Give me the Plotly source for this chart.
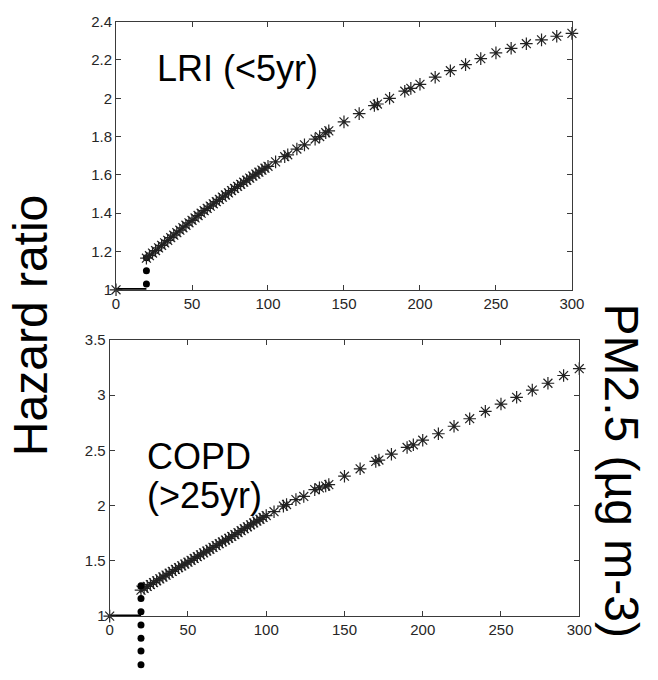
import plotly.graph_objects as go

# ---------------- data ----------------
# PM2.5 concentrations (shared by both panels)
pm_x = [0,
        20, 22, 24, 26, 28, 30, 32, 34, 36, 38, 40, 42, 44, 46, 48, 50,
        52, 54, 56, 58, 60, 62, 64, 66, 68, 70, 72, 74, 76, 78, 80,
        82, 84, 86, 88, 90, 92, 94, 96, 98, 100,
        105, 111, 113, 119, 124, 131, 134, 138, 140, 150, 160, 170, 172,
        180, 190, 194, 200, 210, 220, 230, 240, 250, 260, 270, 280, 290, 300]

lri_hr = [1.0,
          1.165, 1.178, 1.192, 1.205, 1.219, 1.232, 1.245, 1.258, 1.272, 1.285,
          1.298, 1.311, 1.324, 1.337, 1.350, 1.363, 1.375, 1.388, 1.400, 1.413,
          1.425, 1.437, 1.449, 1.460, 1.472, 1.484, 1.495, 1.506, 1.518, 1.529,
          1.540, 1.551, 1.562, 1.572, 1.583, 1.594, 1.604, 1.614, 1.625, 1.635,
          1.645,
          1.668, 1.695, 1.705, 1.735, 1.757, 1.787, 1.800, 1.820, 1.830, 1.877,
          1.920, 1.962, 1.970, 2.000, 2.037, 2.052, 2.073, 2.110, 2.144, 2.176,
          2.207, 2.237, 2.261, 2.285, 2.305, 2.324, 2.339]

copd_hr = [1.0,
           1.235, 1.252, 1.269, 1.286, 1.303, 1.320, 1.337, 1.354, 1.371, 1.388,
           1.405, 1.422, 1.438, 1.455, 1.471, 1.488, 1.505, 1.522, 1.538, 1.555,
           1.572, 1.589, 1.605, 1.622, 1.638, 1.655, 1.671, 1.688, 1.704, 1.721,
           1.737, 1.755, 1.773, 1.791, 1.808, 1.826, 1.843, 1.860, 1.876, 1.893,
           1.910,
           1.945, 1.995, 2.010, 2.054, 2.083, 2.145, 2.160, 2.177, 2.190, 2.266,
           2.333, 2.400, 2.412, 2.465, 2.526, 2.550, 2.592, 2.650, 2.718, 2.786,
           2.853, 2.919, 2.980, 3.045, 3.107, 3.177, 3.239]

# counterfactual step (black dots / line)
step_line_x = [0, 20]
step_line_y = [1.0, 1.0]
lri_step_x = [20, 20, 20]
lri_step_y = [1.03, 1.10, 1.168]
copd_step_x = [20, 20, 20, 20, 20, 20, 20, 20]
copd_step_y = [1.274, 1.16, 1.04, 0.92, 0.80, 0.685, 0.56, 0.44]

x_ticks = [0, 50, 100, 150, 200, 250, 300]
x_tick_text = ["0", "50", "100", "150", "200", "250", "300"]
lri_y_ticks = [1, 1.2, 1.4, 1.6, 1.8, 2, 2.2, 2.4]
lri_y_text = ["1", "1.2", "1.4", "1.6", "1.8", "2", "2.2", "2.4"]
copd_y_ticks = [1, 1.5, 2, 2.5, 3, 3.5]
copd_y_text = ["1", "1.5", "2", "2.5", "3", "3.5"]

# ---------------- figure ----------------
W, H = 658, 680
FONT = "Liberation Sans, Arial, Helvetica, sans-serif"
AX = "#3a3a3a"

# panel geometry (pixels)
top_x_px = (115, 583)
top_y_px = (13, 288)
bot_x_px = (108.5, 590.5)
bot_y_px = (339.3, 622.7)

LRI_RANGE = [1, 2.4]
COPD_RANGE = [1, 3.5]

# an invisible twin of the lower panel whose domain runs to the bottom
# edge, so dots below y=1 stay visible (same data scale)
ext_bottom_px = H
scale = (COPD_RANGE[1] - COPD_RANGE[0]) / (bot_y_px[1] - bot_y_px[0])
ext_range = [COPD_RANGE[1] - scale * (ext_bottom_px - bot_y_px[0]), COPD_RANGE[1]]

fig = go.Figure()

ast = dict(symbol="asterisk-open", size=10.5, color="#222222",
           line=dict(width=1.2, color="rgba(25,25,25,0.88)"))
dot = dict(symbol="circle", size=7, color="black")

# top panel
fig.add_trace(go.Scatter(x=step_line_x, y=step_line_y, mode="lines",
                         line=dict(color="black", width=3.5),
                         xaxis="x", yaxis="y", cliponaxis=False,
                         showlegend=False, hoverinfo="skip"))
fig.add_trace(go.Scatter(x=lri_step_x, y=lri_step_y, mode="markers", marker=dot,
                         xaxis="x", yaxis="y", cliponaxis=False, showlegend=False))
fig.add_trace(go.Scatter(x=pm_x, y=lri_hr, mode="markers", marker=ast,
                         xaxis="x", yaxis="y", cliponaxis=False, showlegend=False))

# bottom panel
fig.add_trace(go.Scatter(x=step_line_x, y=step_line_y, mode="lines",
                         line=dict(color="black", width=3.5),
                         xaxis="x2", yaxis="y2", cliponaxis=False,
                         showlegend=False, hoverinfo="skip"))
fig.add_trace(go.Scatter(x=pm_x, y=copd_hr, mode="markers", marker=ast,
                         xaxis="x2", yaxis="y2", cliponaxis=False, showlegend=False))
fig.add_trace(go.Scatter(x=copd_step_x, y=copd_step_y, mode="markers", marker=dot,
                         xaxis="x3", yaxis="y3", cliponaxis=False, showlegend=False))

axis_common = dict(showline=True, linecolor=AX, linewidth=1, mirror="ticks",
                   ticks="inside", ticklen=5, tickcolor=AX, tickwidth=1,
                   showgrid=False, zeroline=False,
                   tickfont=dict(family=FONT, size=15, color="#262626"))
hidden = dict(visible=False, showgrid=False, zeroline=False)

fig.update_layout(
    width=W, height=H,
    margin=dict(l=0, r=0, t=0, b=0),
    paper_bgcolor="white", plot_bgcolor="rgba(0,0,0,0)",
    xaxis=dict(domain=[top_x_px[0] / W, top_x_px[1] / W], range=[0, 300], anchor="y",
               tickvals=x_ticks, ticktext=x_tick_text, **axis_common),
    yaxis=dict(domain=[1 - top_y_px[1] / H, 1 - top_y_px[0] / H], range=LRI_RANGE,
               anchor="x", tickvals=lri_y_ticks, ticktext=lri_y_text, **axis_common),
    xaxis2=dict(domain=[bot_x_px[0] / W, bot_x_px[1] / W], range=[0, 300], anchor="y2",
                tickvals=x_ticks, ticktext=x_tick_text, **axis_common),
    yaxis2=dict(domain=[1 - bot_y_px[1] / H, 1 - bot_y_px[0] / H], range=COPD_RANGE,
                anchor="x2", tickvals=copd_y_ticks, ticktext=copd_y_text, **axis_common),
    xaxis3=dict(domain=[bot_x_px[0] / W, bot_x_px[1] / W], range=[0, 300],
                anchor="y3", **hidden),
    yaxis3=dict(domain=[1 - ext_bottom_px / H, 1 - bot_y_px[0] / H], range=ext_range,
                anchor="x3", **hidden),
)

big = dict(family=FONT, size=36, color="black")
fig.add_annotation(x=80, y=2.156, xref="x", yref="y", text="LRI (<5yr)",
                   showarrow=False, font=big, xanchor="center", yanchor="middle")
fig.add_annotation(x=22.7, y=2.44, xref="x2", yref="y2", text="COPD",
                   showarrow=False, font=big, xanchor="left", yanchor="middle")
fig.add_annotation(x=22.7, y=2.09, xref="x2", yref="y2", text="(>25yr)",
                   showarrow=False, font=big, xanchor="left", yanchor="middle")

label = dict(family=FONT, size=48, color="black")
fig.add_annotation(x=28 / W, y=1 - 325 / H, xref="paper", yref="paper",
                   text="Hazard ratio", textangle=-90, showarrow=False,
                   font=label, xanchor="center", yanchor="middle")
fig.add_annotation(x=634 / W, y=1 - 473 / H, xref="paper", yref="paper",
                   text="PM2.5 (µg m-3)", textangle=90, showarrow=False,
                   font=label, xanchor="center", yanchor="middle")

fig.write_html("out.html")
